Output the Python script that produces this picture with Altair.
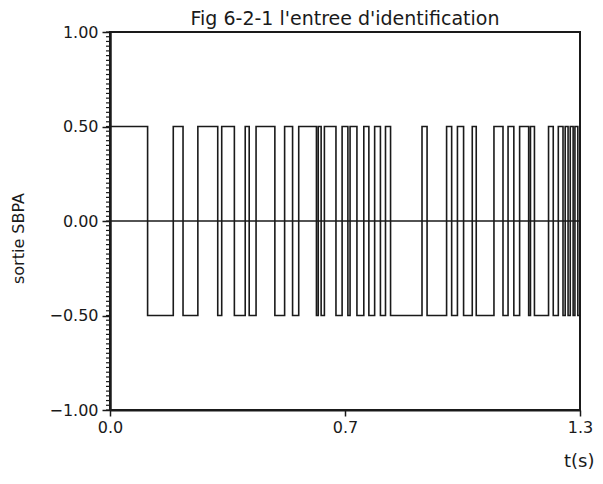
import altair as alt
import pandas as pd

# transition times (s) of the binary test signal
times = [0.0,
         0.104, 0.175, 0.202, 0.243, 0.298, 0.309, 0.344, 0.374, 0.385, 0.404,
         0.456, 0.483, 0.505, 0.522, 0.571, 0.576, 0.584, 0.593, 0.625, 0.642,
         0.658, 0.664, 0.683, 0.702, 0.716, 0.732, 0.748, 0.762, 0.776, 0.863,
         0.877, 0.931, 0.945, 0.961, 0.978, 1.002, 1.013, 1.062, 1.087, 1.101,
         1.117, 1.133, 1.158, 1.163, 1.174, 1.213, 1.226, 1.240, 1.253, 1.259,
         1.267, 1.273, 1.281, 1.286, 1.294,
         1.3]
levels = [0.5,
          -0.5, 0.5, -0.5, 0.5, -0.5, 0.5, -0.5, 0.5, -0.5, 0.5,
          -0.5, 0.5, -0.5, 0.5, -0.5, 0.5, -0.5, 0.5, -0.5, 0.5,
          -0.5, 0.5, -0.5, 0.5, -0.5, 0.5, -0.5, 0.5, -0.5, 0.5,
          -0.5, 0.5, -0.5, 0.5, -0.5, 0.5, -0.5, 0.5, -0.5, 0.5,
          -0.5, 0.5, -0.5, 0.5, -0.5, 0.5, -0.5, 0.5, -0.5, 0.5,
          -0.5, 0.5, -0.5, 0.5, -0.5,
          -0.5]

x_ticks = [0.0, 0.65, 1.3]
y_ticks = [-1.0, -0.5, 0.0, 0.5, 1.0]
y_minor = [round(-1.0 + 0.025 * i, 3) for i in range(81)]
zero_line = [0.0]

FONT = "DejaVu Sans"
INK = "#1a1a1a"

W, H = 470, 378

sig = pd.DataFrame({"t": times, "v": levels})

xscale = alt.Scale(domain=[0, 1.3], nice=False, zero=False)
yscale = alt.Scale(domain=[-1, 1], nice=False, zero=False)

line = alt.Chart(sig).mark_line(interpolate="step-after", color=INK, strokeWidth=1.6).encode(
    x=alt.X("t:Q", scale=xscale,
            axis=alt.Axis(values=x_ticks, format=".1f", title="t(s)",
                          titleAnchor="end", titleAlign="right", titleBaseline="alphabetic",
                          titleX=W + 14, titleY=56,
                          titleFont=FONT, titleFontSize=18, titleFontWeight="normal", titleColor=INK,
                          labelFont=FONT, labelFontSize=16, labelColor=INK, labelPadding=3,
                          tickSize=6, tickColor=INK, tickWidth=1.5,
                          domainColor=INK, domainWidth=2, grid=False, labelFlush=False)),
    y=alt.Y("v:Q", scale=yscale,
            axis=alt.Axis(values=y_ticks, format=".2f", title="sortie SBPA",
                          titleX=-92, titleY=206, titleAlign="center", titleBaseline="middle",
                          titleFont=FONT, titleFontSize=16, titleFontWeight="normal", titleColor=INK,
                          labelFont=FONT, labelFontSize=16, labelColor=INK, labelPadding=4,
                          tickSize=8, tickColor=INK, tickWidth=1.5,
                          domainColor=INK, domainWidth=2.5, grid=False)),
)

zero = alt.Chart(pd.DataFrame({"y": zero_line})).mark_rule(color=INK, strokeWidth=1.4).encode(
    y=alt.Y("y:Q", scale=yscale)
)

minor = alt.Chart(pd.DataFrame({"y": y_minor})).mark_rule(color=INK, strokeWidth=1.2, clip=False).encode(
    y=alt.Y("y:Q", scale=yscale),
    x=alt.value(-4),
    x2=alt.value(0),
)

chart = alt.layer(line, zero, minor).properties(
    width=W,
    height=H,
    background="white",
    autosize=alt.AutoSizeParams(type="none"),
    padding={"left": 102, "top": 24, "right": 15, "bottom": 60},
    title=alt.TitleParams("Fig 6-2-1 l'entree d'identification", font=FONT, fontSize=19,
                          fontWeight="normal", color=INK, anchor="middle", offset=-5),
).configure_view(stroke=INK, strokeWidth=2)

chart.save("out.html", embed_options={"renderer": "svg", "actions": False})
